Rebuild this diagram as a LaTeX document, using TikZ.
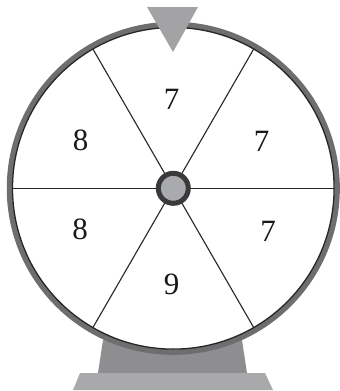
\documentclass[tikz,border=0pt]{standalone}
\usepackage{fontspec}
\setmainfont{Liberation Serif}
\usetikzlibrary{calc}
\definecolor{rimgray}{HTML}{6E6E70}
\definecolor{trigray}{HTML}{A3A3A5}
\definecolor{standdark}{HTML}{8E8E90}
\definecolor{standlight}{HTML}{A9A9AB}
\definecolor{hubfill}{HTML}{A9AAAE}
\definecolor{hubring}{HTML}{3A3A3A}
\begin{document}
\begin{tikzpicture}[x=1pt,y=-1pt,
  num/.style={font=\fontsize{31}{31}\selectfont, inner sep=0pt, text=black!90},
  spoke/.style={line width=1.1pt, black!85}]
\useasboundingbox (0,0) rectangle (340,391);
% stand
\fill[standdark] (103,340) -- (242,340) -- (247,373) -- (98,373) -- cycle;
\fill[standlight] (80,373) -- (265,373) -- (273,390) -- (73,390) -- cycle;
% wheel
\coordinate (c) at (173.3,188.3);
\fill[white] (c) circle (163);
\foreach \a in {0,60,...,300} {
  \coordinate (r\a) at ($(c)+(\a:160.5)$);
  \draw[spoke] (c) -- (r\a);
}
\draw[rimgray, line width=5.5pt] (c) circle (163.8);
\draw[black!85, line width=1.3pt] (c) circle (160.8);
% hub
\node[circle, draw=hubring, line width=5pt, fill=hubfill, minimum size=30pt, inner sep=0pt] (hub) at (c) {};
% pointer
\fill[trigray] (147,7) -- (198,7) -- (173,52) -- cycle;
% numbers
\node[num] (n1) at (171.5,99.5) {7};
\node[num] (n2) at (261.5,141) {7};
\node[num] (n3) at (268,231) {7};
\node[num] (n4) at (171.5,284.5) {9};
\node[num] (n5) at (80,229.5) {8};
\node[num] (n6) at (80.5,140) {8};
\end{tikzpicture}
\end{document}
